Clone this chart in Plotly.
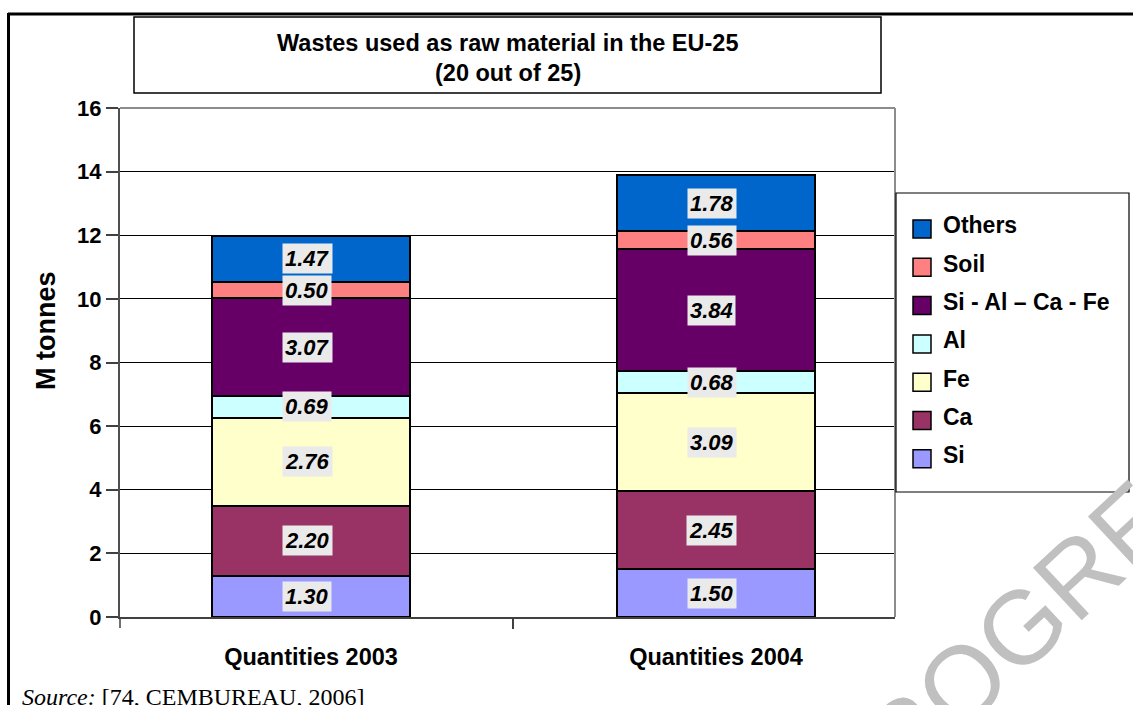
import plotly.graph_objects as go

# ---------------- data ----------------
categories = ["Quantities 2003", "Quantities 2004"]
series_names = ["Si", "Ca", "Fe", "Al", "Si - Al \u2013 Ca - Fe", "Soil", "Others"]  # bottom -> top
si = [1.30, 1.50]
ca = [2.20, 2.45]
fe = [2.76, 3.09]
al = [0.69, 0.68]
si_al_ca_fe = [3.07, 3.84]
soil = [0.50, 0.56]
others = [1.47, 1.78]
series_values = [si, ca, fe, al, si_al_ca_fe, soil, others]
series_colors = ["#9999FF", "#993366", "#FFFFCC", "#CCFFFF", "#660066", "#FF8080", "#0066CC"]
y_ticks = [0, 2, 4, 6, 8, 10, 12, 14, 16]

title_line1 = "Wastes used as raw material in the EU-25"
title_line2 = "(20 out of 25)"
y_title = "M tonnes"
source_text = "<i>Source:</i> [74, CEMBUREAU, 2006]"
watermark = "PROGRESS"

# ---------------- layout helpers (pixel -> paper) ----------------
W, H = 1133, 705
PL, PR, PT, PB = 120, 895, 108, 617


def px(x):
    return (x - PL) / (PR - PL)


def py(y):
    return (PB - y) / (PB - PT)


SANS = "Liberation Sans, Arial, sans-serif"
SERIF = "Liberation Serif, Times New Roman, serif"

fig = go.Figure()

for name, vals, col in zip(series_names, series_values, series_colors):
    fig.add_trace(go.Bar(
        x=categories, y=vals, name=name, width=0.49,
        marker=dict(color=col, line=dict(color="black", width=2)),
        showlegend=False, hoverinfo="name+y",
    ))

annotations = []
# watermark first (lowest)
annotations.append(dict(
    x=px(1042), y=py(608), xref="paper", yref="paper", text=watermark,
    showarrow=False, textangle=-43, xanchor="center", yanchor="middle",
    font=dict(family=SANS, size=104, color="#C0C0C0"),
))

# data labels at middle of each segment
cum = [0.0] * len(categories)
for vals in series_values:
    for i, v in enumerate(vals):
        annotations.append(dict(
            x=categories[i], y=cum[i] + v / 2, xref="x", yref="y",
            xanchor="center", yanchor="middle",
            text=f"<b><i>{v:.2f}</i></b>", showarrow=False, xshift=-4,
            font=dict(family=SANS, size=22, color="black"),
            bgcolor="#EAEAEA", borderpad=2,
        ))
        cum[i] += v

# title
annotations.append(dict(x=px(507.5), y=py(43), xref="paper", yref="paper",
                        xanchor="center", yanchor="middle",
                        text=f"<b>{title_line1}</b>", showarrow=False,
                        font=dict(family=SANS, size=23.5, color="black")))
annotations.append(dict(x=px(507.5), y=py(73), xref="paper", yref="paper",
                        xanchor="center", yanchor="middle",
                        text=f"<b>{title_line2}</b>", showarrow=False,
                        font=dict(family=SANS, size=23.5, color="black")))
# y axis title
annotations.append(dict(x=px(46), y=py(331), xref="paper", yref="paper",
                        xanchor="center", yanchor="middle",
                        text=f"<b>{y_title}</b>", showarrow=False, textangle=-90,
                        font=dict(family=SANS, size=27, color="black")))
# source
annotations.append(dict(x=px(20), y=py(697), xref="paper", yref="paper",
                        xanchor="left", yanchor="middle",
                        text=source_text, showarrow=False,
                        font=dict(family=SERIF, size=24, color="black")))

shapes = []
# outer frame (top and left)
shapes.append(dict(type="line", xref="paper", yref="paper", x0=px(8), x1=px(1140),
                   y0=py(14), y1=py(14), line=dict(color="black", width=3)))
shapes.append(dict(type="line", xref="paper", yref="paper", x0=px(8.5), x1=px(8.5),
                   y0=py(13), y1=py(710), line=dict(color="black", width=3)))
# title box
shapes.append(dict(type="rect", xref="paper", yref="paper", x0=px(134), x1=px(881),
                   y0=py(93), y1=py(17), line=dict(color="black", width=1.5),
                   fillcolor="white", layer="below"))
# plot border (top / right grey)
shapes.append(dict(type="line", xref="paper", yref="paper", x0=0, x1=1, y0=1, y1=1,
                   line=dict(color="#8C8C8C", width=2)))
shapes.append(dict(type="line", xref="paper", yref="paper", x0=1, x1=1, y0=0, y1=1,
                   line=dict(color="#8C8C8C", width=2)))
# left tick below the axis
shapes.append(dict(type="line", xref="paper", yref="paper", x0=0, x1=0,
                   y0=py(617), y1=py(628), line=dict(color="#404040", width=1.5)))

# manual legend
shapes.append(dict(type="rect", xref="paper", yref="paper", x0=px(896), x1=px(1129),
                   y0=py(492), y1=py(193), line=dict(color="black", width=1.2),
                   fillcolor="white"))
leg_names = list(reversed(series_names))
leg_colors = list(reversed(series_colors))
for k, (nm, col) in enumerate(zip(leg_names, leg_colors)):
    cy = 229 + k * 38.3
    shapes.append(dict(type="rect", xref="paper", yref="paper",
                       x0=px(913), x1=px(931), y0=py(cy + 9), y1=py(cy - 9),
                       fillcolor=col, line=dict(color="black", width=1.5)))
    annotations.append(dict(x=px(941), y=py(cy - 3.5), xref="paper", yref="paper",
                            xanchor="left", yanchor="middle", text=f"<b>{nm}</b>",
                            showarrow=False,
                            font=dict(family=SANS, size=23, color="black")))

fig.update_layout(
    width=W, height=H,
    margin=dict(l=PL, r=W - PR, t=PT, b=H - PB, pad=0),
    paper_bgcolor="white", plot_bgcolor="white",
    barmode="stack",
    showlegend=False,
    annotations=annotations,
    shapes=shapes,
    xaxis=dict(
        type="category", range=[-0.4716, 1.442],
        showline=True, linecolor="#404040", linewidth=2,
        ticks="outside", tickson="boundaries", ticklen=10, tickwidth=1.5,
        tickcolor="#404040", showgrid=False,
        tickfont=dict(family=SANS, size=23.5, color="black"),
        ticklabelstandoff=18,
        tickvals=categories, ticktext=[f"<b>{c}</b>" for c in categories],
    ),
    yaxis=dict(
        range=[0, 16], tickvals=y_ticks,
        ticktext=[f"<b>{t}</b>" for t in y_ticks],
        showline=True, linecolor="#505050", linewidth=2,
        ticks="outside", ticklen=12, tickwidth=1.5, tickcolor="#404040",
        showgrid=True, gridcolor="black", gridwidth=1, zeroline=False,
        tickfont=dict(family=SANS, size=22, color="black"),
        ticklabelstandoff=0,
    ),
)

fig.write_html(
    "out.html",
    config={"displayModeBar": False},
    post_script="document.body.style.margin='0';document.body.style.padding='0';"
                "document.documentElement.style.overflow='hidden';",
)
